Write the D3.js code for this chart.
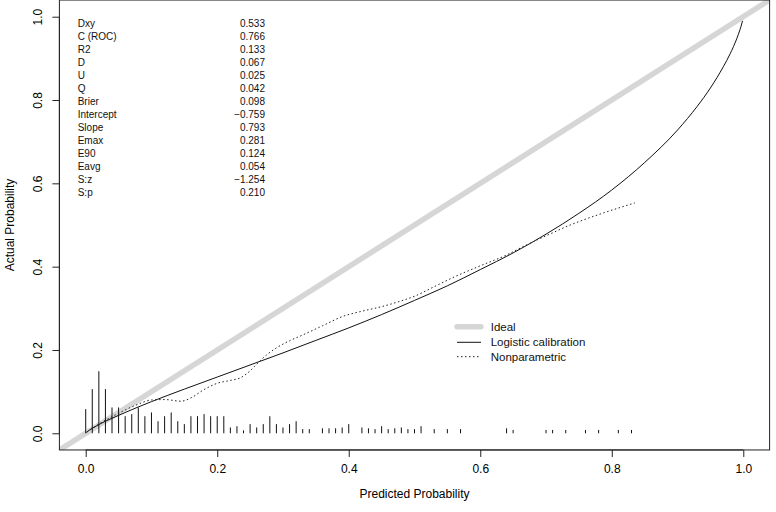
<!DOCTYPE html>
<html>
<head>
<meta charset="utf-8">
<script src="https://cdn.jsdelivr.net/npm/d3@7"></script>
<style>
  html, body { margin: 0; padding: 0; background: #fff; }
  svg { display: block; font-family: "Liberation Sans", Arial, Helvetica, sans-serif; }
</style>
</head>
<body>
<svg id="chart" width="776" height="512"></svg>
<script>
// ---------- data ----------
const statLabels = ["Dxy", "C (ROC)", "R2", "D", "U", "Q", "Brier", "Intercept", "Slope", "Emax", "E90", "Eavg", "S:z", "S:p"];
const statValues = ["0.533", "0.766", "0.133", "0.067", "0.025", "0.042", "0.098", "\u22120.759", "0.793", "0.281", "0.124", "0.054", "\u22121.254", "0.210"];

const xTicks = [0.0, 0.2, 0.4, 0.6, 0.8, 1.0];
const yTicks = [0.0, 0.2, 0.4, 0.6, 0.8, 1.0];

// logistic calibration curve (predicted, actual)
const logisticPred = [0.001, 0.005, 0.01, 0.02, 0.03, 0.05, 0.075, 0.10, 0.15, 0.20, 0.25, 0.30, 0.35, 0.40, 0.45, 0.50, 0.55, 0.60, 0.65, 0.70, 0.75, 0.80, 0.85, 0.90, 0.93, 0.95, 0.97, 0.98, 0.99, 0.995, 0.998, 0.9988];
const logisticObs  = [0.002, 0.007, 0.012, 0.021, 0.029, 0.043, 0.060, 0.076, 0.106, 0.135, 0.164, 0.193, 0.223, 0.253, 0.285, 0.319, 0.354, 0.393, 0.433, 0.478, 0.528, 0.584, 0.650, 0.728, 0.785, 0.829, 0.881, 0.911, 0.947, 0.969, 0.985, 0.990];

// nonparametric (lowess) curve
const npPred = [0.002, 0.02, 0.04, 0.06, 0.08, 0.10, 0.12, 0.145, 0.16, 0.18, 0.20, 0.22, 0.235, 0.25, 0.26, 0.275, 0.29, 0.31, 0.33, 0.36, 0.39, 0.42, 0.45, 0.48, 0.50, 0.53, 0.56, 0.60, 0.64, 0.67, 0.70, 0.74, 0.78, 0.835];
const npObs  = [0.003, 0.022, 0.040, 0.056, 0.070, 0.080, 0.081, 0.077, 0.085, 0.105, 0.120, 0.127, 0.133, 0.150, 0.166, 0.188, 0.205, 0.222, 0.236, 0.258, 0.280, 0.293, 0.304, 0.318, 0.329, 0.352, 0.375, 0.402, 0.428, 0.452, 0.474, 0.502, 0.525, 0.553];

// distribution spikes of predicted probabilities (bin, relative height)
const spikeX = [0.00, 0.01, 0.02, 0.03, 0.04, 0.05, 0.06, 0.07, 0.08, 0.09, 0.10, 0.11, 0.12, 0.13, 0.14, 0.15, 0.16, 0.17, 0.18, 0.19, 0.20, 0.21, 0.22, 0.23, 0.24, 0.25, 0.26, 0.27, 0.28, 0.29, 0.30, 0.31, 0.32, 0.33, 0.34, 0.36, 0.37, 0.38, 0.39, 0.40, 0.42, 0.43, 0.44, 0.45, 0.46, 0.47, 0.48, 0.49, 0.50, 0.51, 0.53, 0.55, 0.57, 0.64, 0.65, 0.70, 0.71, 0.73, 0.76, 0.78, 0.81, 0.83];
const spikeH = [0.058, 0.106, 0.149, 0.106, 0.062, 0.062, 0.041, 0.046, 0.062, 0.041, 0.050, 0.029, 0.041, 0.050, 0.029, 0.022, 0.041, 0.041, 0.046, 0.041, 0.041, 0.041, 0.014, 0.017, 0.007, 0.022, 0.014, 0.022, 0.041, 0.022, 0.014, 0.022, 0.029, 0.010, 0.010, 0.012, 0.012, 0.012, 0.014, 0.022, 0.014, 0.012, 0.010, 0.017, 0.010, 0.012, 0.014, 0.010, 0.010, 0.017, 0.010, 0.010, 0.010, 0.012, 0.008, 0.008, 0.008, 0.008, 0.008, 0.008, 0.008, 0.008];

const legendLabels = ["Ideal", "Logistic calibration", "Nonparametric"];

// ---------- drawing ----------
const svg = d3.select("#chart");
const x = d3.scaleLinear().domain([-0.04, 1.04]).range([59.4, 769.6]);
const y = d3.scaleLinear().domain([-0.04, 1.04]).range([449.96, 0.04]);

svg.append("defs").append("clipPath").attr("id", "plotclip")
  .append("rect").attr("x", x(-0.04)).attr("y", y(1.04))
  .attr("width", x(1.04) - x(-0.04)).attr("height", y(-0.04) - y(1.04));

const plot = svg.append("g").attr("clip-path", "url(#plotclip)");

// ideal line
plot.append("line")
  .attr("x1", x(-0.04)).attr("y1", y(-0.04))
  .attr("x2", x(1.04)).attr("y2", y(1.04))
  .attr("stroke", "#d6d6d6").attr("stroke-width", 5.5);

// spikes
plot.selectAll("line.spike").data(spikeX).enter().append("line")
  .attr("class", "spike")
  .attr("x1", d => x(d)).attr("x2", d => x(d))
  .attr("y1", y(0)).attr("y2", (d, i) => y(spikeH[i]))
  .attr("stroke", "#111").attr("stroke-width", 1);

const lineGen = d3.line().x(d => x(d[0])).y(d => y(d[1])).curve(d3.curveMonotoneX);

plot.append("path")
  .datum(logisticPred.map((p, i) => [p, logisticObs[i]]))
  .attr("d", lineGen)
  .attr("fill", "none").attr("stroke", "#111").attr("stroke-width", 1);

plot.append("path")
  .datum(npPred.map((p, i) => [p, npObs[i]]))
  .attr("d", lineGen)
  .attr("fill", "none").attr("stroke", "#222").attr("stroke-width", 1)
  .attr("stroke-dasharray", "1.5,2.5");

// box
svg.append("rect")
  .attr("x", x(-0.04)).attr("y", y(1.04))
  .attr("width", x(1.04) - x(-0.04)).attr("height", y(-0.04) - y(1.04))
  .attr("fill", "none").attr("stroke", "#222").attr("stroke-width", 1);

// x axis
const xAxis = d3.axisBottom(x).tickValues(xTicks).tickFormat(d3.format(".1f")).tickSize(7).tickPadding(8);
const gx = svg.append("g").attr("transform", `translate(0,${y(-0.04)})`).call(xAxis);
gx.select(".domain").attr("d", `M${x(0)},0H${x(1)}`).attr("stroke", "#222");
gx.selectAll(".tick line").attr("stroke", "#222");
gx.selectAll("text").attr("font-size", 12).attr("fill", "#000")
  .attr("font-family", "Liberation Sans, Arial, sans-serif");

// y axis
const yAxis = d3.axisLeft(y).tickValues(yTicks).tickFormat(d3.format(".1f")).tickSize(7).tickPadding(8);
const gy = svg.append("g").attr("transform", `translate(${x(-0.04)},0)`).call(yAxis);
gy.select(".domain").attr("d", `M0,${y(0)}V${y(1)}`).attr("stroke", "#222");
gy.selectAll(".tick line").attr("stroke", "#222");
gy.selectAll("text")
  .attr("font-size", 12).attr("fill", "#000")
  .attr("font-family", "Liberation Sans, Arial, sans-serif")
  .attr("x", null).attr("dy", null)
  .attr("text-anchor", "middle")
  .attr("transform", "translate(-21,0) rotate(-90)")
  .attr("dominant-baseline", "central");

// axis titles
svg.append("text").attr("x", (x(-0.04) + x(1.04)) / 2).attr("y", 498)
  .attr("text-anchor", "middle").attr("font-size", 12).text("Predicted Probability");
svg.append("text").attr("transform", `translate(14,${(y(-0.04) + y(1.04)) / 2}) rotate(-90)`)
  .attr("text-anchor", "middle").attr("font-size", 12).text("Actual Probability");

// stats
const stats = svg.append("g").attr("font-size", 10).attr("fill", "#111");
statLabels.forEach((lab, i) => {
  const ty = 23.3 + i * 13.03;
  stats.append("text").attr("x", 77.7).attr("y", ty).attr("dominant-baseline", "central").text(lab);
  stats.append("text").attr("x", 265).attr("y", ty).attr("text-anchor", "end").attr("dominant-baseline", "central").text(statValues[i]);
});

// legend
const leg = svg.append("g").attr("font-size", 11.5).attr("fill", "#111");
const legY = [326.7, 342.3, 356.7];
leg.append("line").attr("x1", 457).attr("x2", 481).attr("y1", legY[0]).attr("y2", legY[0])
  .attr("stroke", "#d6d6d6").attr("stroke-width", 5.5).attr("stroke-linecap", "round");
leg.append("line").attr("x1", 457).attr("x2", 481).attr("y1", legY[1]).attr("y2", legY[1])
  .attr("stroke", "#111").attr("stroke-width", 1);
leg.append("line").attr("x1", 457).attr("x2", 481).attr("y1", legY[2]).attr("y2", legY[2])
  .attr("stroke", "#222").attr("stroke-width", 1).attr("stroke-dasharray", "1.5,2.5");
legendLabels.forEach((t, i) => {
  leg.append("text").attr("x", 490.7).attr("y", legY[i]).attr("dominant-baseline", "central").text(t);
});
</script>
</body>
</html>
